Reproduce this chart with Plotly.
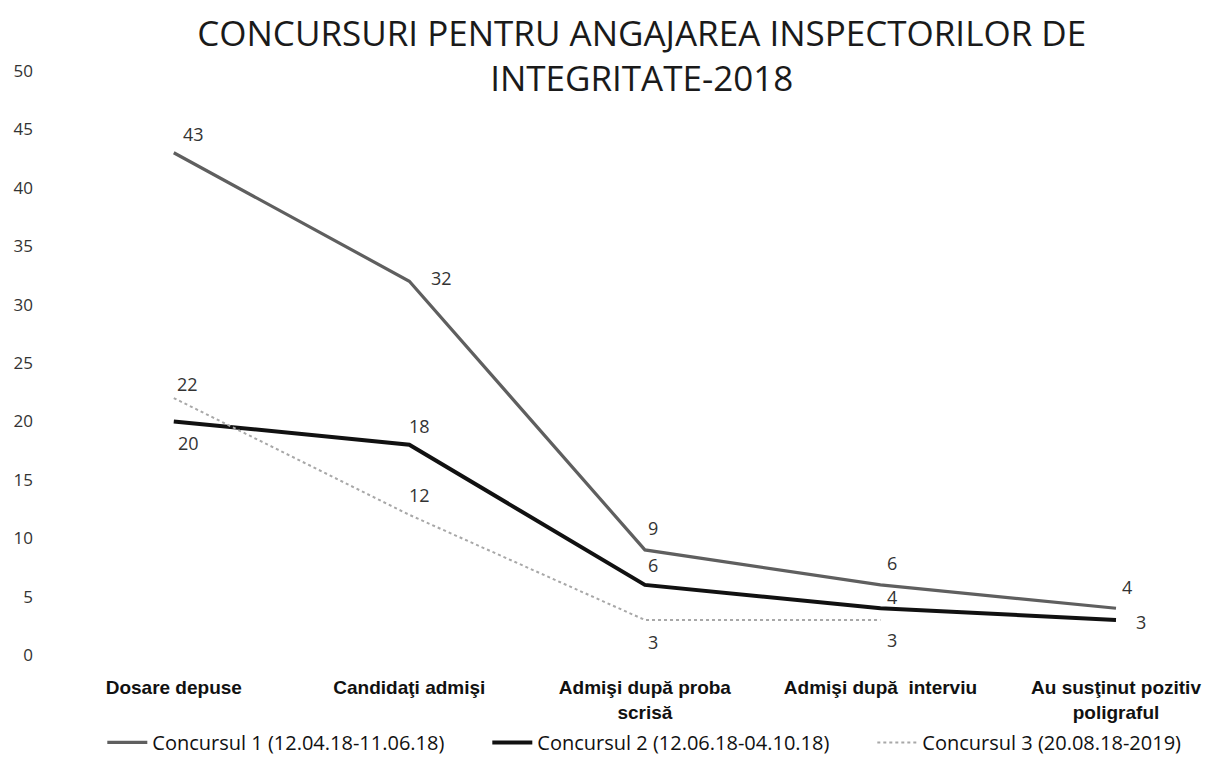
import plotly.graph_objects as go

categories = ["Dosare depuse", "Candidaţi admişi", "Admişi după proba<br>scrisă",
              "Admişi după  interviu", "Au susţinut pozitiv<br>poligraful"]
series_names = ["Concursul 1 (12.04.18-11.06.18)",
                "Concursul 2 (12.06.18-04.10.18)",
                "Concursul 3 (20.08.18-2019)"]
c1 = [43, 32, 9, 6, 4]
c2 = [20, 18, 6, 4, 3]
c3 = [22, 12, 3, 3, None]
y_ticks = [0, 5, 10, 15, 20, 25, 30, 35, 40, 45, 50]

# data-label pixel offsets (dx, dy) relative to each point (style only)
off1 = [(20, 19), (32, 3), (8, 22), (12, 22), (11, 21)]
off2 = [(15, -22), (10, 19), (8, 20), (12, 11), (25, -2)]
off3 = [(14, 14), (10, 20), (8, -22), (12, -20), (0, 0)]

xs = list(range(len(categories)))

fig = go.Figure()
styles = [dict(color="#5f5f5f", width=3.2),
          dict(color="#111111", width=4),
          dict(color="#a8a8a8", width=2, dash="dot")]
for name, vals, st in zip(series_names, [c1, c2, c3], styles):
    fig.add_trace(go.Scatter(x=xs, y=vals, name=name, mode="lines", line=st,
                             connectgaps=False))

annotations = []
for vals, offs in zip([c1, c2, c3], [off1, off2, off3]):
    for x, v, (dx, dy) in zip(xs, vals, offs):
        if v is None:
            continue
        annotations.append(dict(x=x, y=v, xref="x", yref="y", text=str(v),
                                showarrow=False, xshift=dx, yshift=dy,
                                font=dict(family="Open Sans", size=18, color="#333333")))

fig.update_layout(
    width=1214, height=754,
    paper_bgcolor="white", plot_bgcolor="white",
    margin=dict(l=48, r=0, t=63, b=107, autoexpand=False),
    title=dict(
        text="CONCURSURI PENTRU ANGAJAREA INSPECTORILOR DE<br>INTEGRITATE-2018",
        x=0.522, xanchor="center", yref="container", y=0.95, yanchor="top",
        font=dict(family="Open Sans", size=35, color="#1a1a1a"),
    ),
    annotations=annotations,
    showlegend=True,
    legend=dict(orientation="h", x=0.535, xanchor="center",
                yref="container", y=0.026, yanchor="middle",
                font=dict(family="Open Sans", size=20, color="#111111"),
                traceorder="normal", itemwidth=40,
                entrywidth=330, entrywidthmode="pixels"),
    xaxis=dict(
        range=[-0.5, 4.45], tickmode="array", tickvals=xs,
        ticktext=["<b>" + c + "</b>" for c in categories],
        showgrid=False, zeroline=False, showline=False, ticks="",
        ticklabelstandoff=19, automargin=False,
        tickfont=dict(family="Liberation Sans", size=19, color="#111111"),
    ),
    yaxis=dict(
        range=[0, 50], tickmode="array", tickvals=y_ticks,
        showgrid=False, zeroline=False, showline=False, ticks="",
        ticklabelstandoff=22, automargin=False,
        tickfont=dict(family="Open Sans", size=17, color="#333333"),
    ),
)

fig.write_html("out.html")
